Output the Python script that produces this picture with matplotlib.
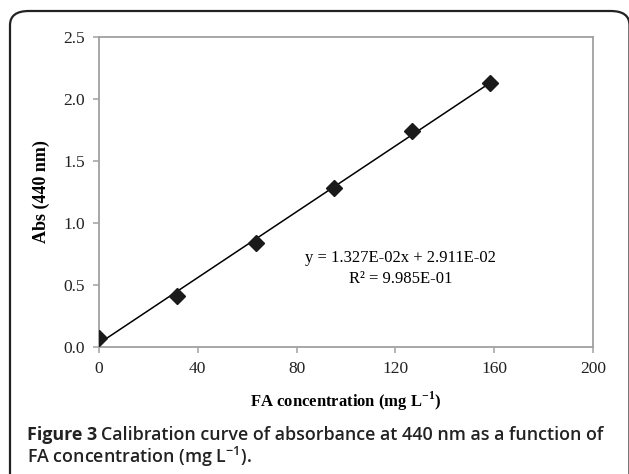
import numpy as np
import matplotlib.pyplot as plt
from matplotlib.patches import FancyBboxPatch

# calibration data
conc = [0, 31.7, 63.4, 95.1, 126.8, 158.5]
absorb = [0.07, 0.41, 0.84, 1.28, 1.74, 2.13]
slope = 1.327e-02
intercept = 2.911e-02
r2 = 9.985e-01

xticks = [0, 40, 80, 120, 160, 200]
yticks = [0.0, 0.5, 1.0, 1.5, 2.0, 2.5]

serif = 'Liberation Serif'
W, H = 629, 474
fig = plt.figure(figsize=(6.29, 4.74), dpi=100)

# rounded frame around figure
box = FancyBboxPatch((10 / W, -0.2), (629.5 - 10) / W, (H - 11) / H + 0.2,
                     boxstyle='round,pad=0,rounding_size=0.03',
                     transform=fig.transFigure, fill=False, ec='#222222', lw=1.6,
                     clip_on=False)
fig.patches.append(box)

ax = fig.add_axes([99 / W, 1 - 347 / H, (593 - 99) / W, (347 - 37) / H])

xfit = np.array([conc[0], conc[-1]])
ax.plot(xfit, slope * xfit + intercept, color='black', lw=1.1, zorder=2)
ax.plot(conc, absorb, ls='none', marker='D', ms=8.5, color='#1a1a1a', zorder=3)

ax.set_xlim(0, 200)
ax.set_ylim(0, 2.5)
ax.set_xticks(xticks)
ax.set_yticks(yticks)
ax.set_xticklabels([str(t) for t in xticks], fontfamily=serif, fontsize=12.5)
ax.set_yticklabels(['%.1f' % t for t in yticks], fontfamily=serif, fontsize=12.5)
for s in ax.spines.values():
    s.set_color('#a0a0a0')
    s.set_linewidth(1.3)
ax.tick_params(direction='out', length=4, width=1.1, color='#a0a0a0', labelcolor='#222222', pad=6)

ax.set_xlabel('FA concentration (mg L$^{\\mathregular{-1}}$)', fontfamily=serif,
              fontweight='bold', fontsize=12, labelpad=9)
ax.set_ylabel('Abs (440 nm)', fontfamily=serif, fontweight='bold', fontsize=13, labelpad=10)

ax.text(122, 0.72, 'y = %.3fE-02x + %.3fE-02' % (slope * 100, intercept * 100),
        fontfamily=serif, fontsize=12, ha='center', va='center')
ax.text(122, 0.545, 'R² = %.3fE-01' % (r2 * 10), fontfamily=serif, fontsize=12,
        ha='center', va='center')

# caption
cfs = 12.9
cap1a = fig.text(27 / W, 1 - 440 / H, 'Figure 3', fontsize=cfs, va='baseline',
                 family='Open Sans', fontweight='bold', color='#222222')
fig.canvas.draw()
bb = cap1a.get_window_extent()
fig.text(bb.x1 / W + 4 / W, 1 - 440 / H,
         'Calibration curve of absorbance at 440 nm as a function of',
         fontsize=cfs, va='baseline', family='Open Sans', fontweight='semibold',
         color='#222222')
fig.text(27 / W, 1 - 463 / H, 'FA concentration (mg L$^{\\mathregular{-1}}$).',
         fontsize=cfs, va='baseline', family='Open Sans', fontweight='semibold',
         color='#222222')

fig.savefig('out.png', dpi=100)
